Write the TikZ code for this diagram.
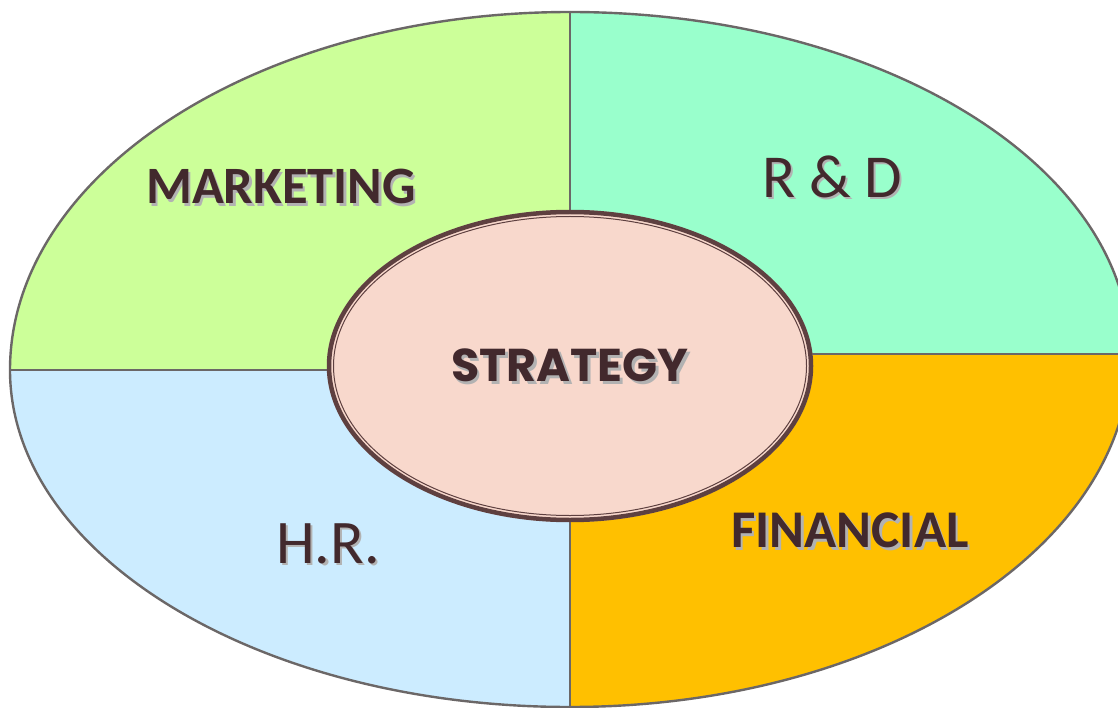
\documentclass[tikz,border=0pt]{standalone}
\usepackage{fontspec}
\setmainfont{Carlito}
\newfontfamily\geo{Poppins}
\definecolor{mkt}{HTML}{CCFF99}
\definecolor{rnd}{HTML}{99FFCC}
\definecolor{hrc}{HTML}{CCECFF}
\definecolor{fin}{HTML}{FFC000}
\definecolor{edge}{HTML}{6B6767}
\definecolor{core}{HTML}{F8D8CC}
\definecolor{coreedge}{HTML}{5E4040}
\definecolor{txt}{HTML}{42292D}
\newcommand\shadowtext[1]{\rlap{\kern2.5pt\raisebox{-2.5pt}{\textcolor{black!30}{#1}}}#1}
\tikzset{
  quad/.style={draw=edge, line width=2.4pt, line join=round},
  lbl/.style={inner sep=0pt, text=txt},
}
\begin{document}
\begin{tikzpicture}[x=1pt,y=-1pt]
\useasboundingbox (0,0) rectangle (1118,708);
\clip (0,0) rectangle (1118,708);
% quadrants
\fill[mkt] (570,370) -- (10,370) arc[start angle=180,end angle=270,x radius=560,y radius=358] -- cycle;
\fill[rnd] (570,354) -- (570,12) arc[start angle=270,end angle=360,x radius=560,y radius=342] -- cycle;
\fill[fin] (570,354) -- (1130,354) arc[start angle=0,end angle=90,x radius=560,y radius=353] -- cycle;
\fill[hrc] (570,370) -- (570,707) arc[start angle=90,end angle=180,x radius=560,y radius=337] -- cycle;
% outlines
\draw[quad] (10,370) arc[start angle=180,end angle=270,x radius=560,y radius=358];
\draw[quad] (570,12) arc[start angle=270,end angle=360,x radius=560,y radius=342];
\draw[quad] (1130,354) arc[start angle=0,end angle=90,x radius=560,y radius=353];
\draw[quad] (570,707) arc[start angle=90,end angle=180,x radius=560,y radius=337];
\draw[quad] (10,370) -- (570,370);
\draw[quad] (570,354) -- (1130,354);
\draw[quad] (570,12) -- (570,707);
% centre ellipse
\fill[core] (570,366) ellipse[x radius=243,y radius=156];
\draw[coreedge, line width=4.5pt] (570,366) ellipse[x radius=241,y radius=154];
\draw[coreedge, line width=1pt] (570,366) ellipse[x radius=236.5,y radius=149.5];
% labels
\node[lbl] (marketing) at (281,188) {\fontsize{52.5}{52.5}\selectfont\bfseries\shadowtext{MARKETING}};
\node[lbl] (rnd) at (832,178) {\fontsize{61}{61}\selectfont\shadowtext{R \& D}};
\node[lbl] (hr) at (328,545) {\fontsize{62}{62}\selectfont\shadowtext{H.R.}};
\node[lbl] (financial) at (850,532) {\fontsize{53}{53}\selectfont\bfseries\shadowtext{FINANCIAL}};
\node[lbl] (strategy) at (570,367) {\geo\fontsize{46}{46}\selectfont\bfseries\shadowtext{STRATEGY}};
\end{tikzpicture}
\end{document}
